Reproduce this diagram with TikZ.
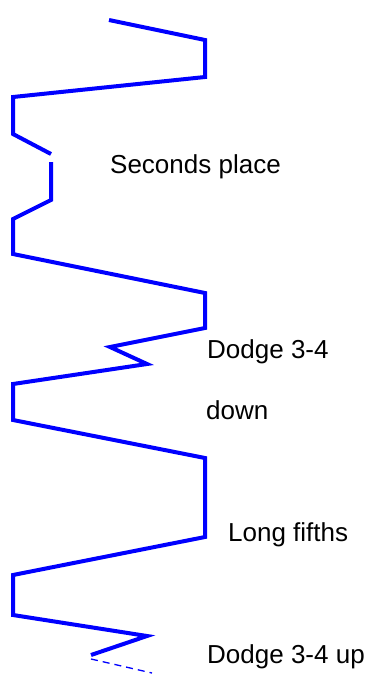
\documentclass[tikz,border=0pt]{standalone}
\usepackage{xcolor}
\usepackage{fontspec}
\setmainfont{Liberation Sans}
\usepackage{tikz}
\tikzset{>=stealth}
\tikzset{
  bell/.style={line width=4pt,blue,line join=miter},
  lbl/.style={anchor=base west,inner sep=0pt,font=\fontsize{26}{30}\selectfont}
}

\begin{document}
\begin{tikzpicture}[x=1pt,y=-1pt]
    \useasboundingbox (0,0) rectangle (369,675);

      \draw[bell](109,20)--(205,40)--(205,77)--(13,97)--(13,134)--(51,154);

      \draw[bell](51,162)--(51,200)--(13,219)--(13,254)--(205,293)--(205,328)
        --(110,347)--(147,364)--(13,384)--(13,420)--(205,458)--(205,537)
        --(13,575)--(13,615)--(147,636)--(91,655);

    \draw[blue,line width=1.3pt,dash pattern=on 7pt off 5pt](91,659)--(152,673);

    \node[lbl] (secs) at (110,173) {Seconds place};
    \node[lbl] (dodgedn) at (207,358) {Dodge 3-4};
    \node[lbl] (down) at (206,419) {down};
    \node[lbl] (fifths) at (228,541) {Long fifths};
    \node[lbl] (dodgeup) at (207,663) {Dodge 3-4 up};
    \end{tikzpicture}
\end{document}
